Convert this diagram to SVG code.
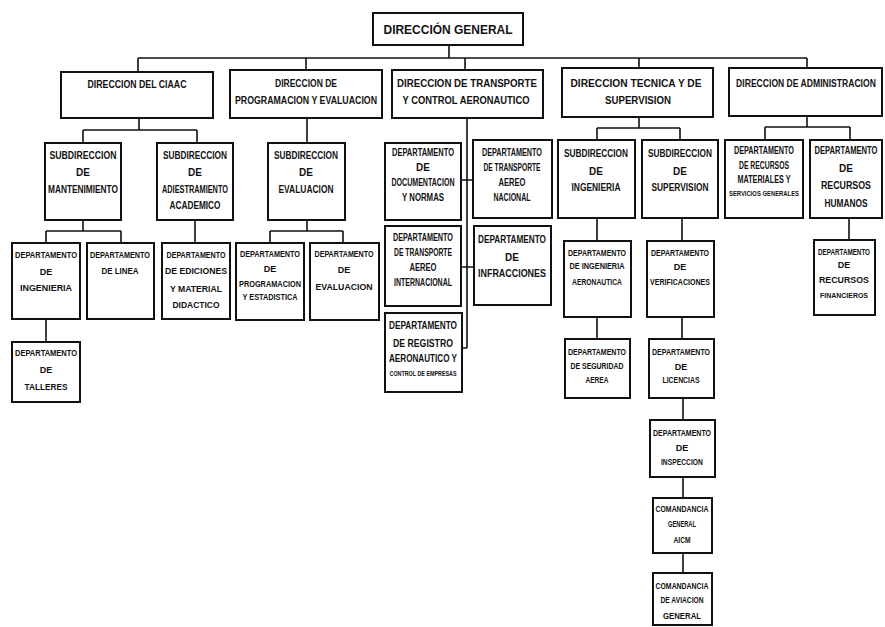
<svg xmlns="http://www.w3.org/2000/svg" width="885" height="627" viewBox="0 0 885 627">
<style>
.b{fill:#fff;stroke:#111;stroke-width:2}
.c{fill:none;stroke:#111;stroke-width:1.6}
text{font-family:"Liberation Sans",Arial,sans-serif;font-weight:bold;fill:#111;text-anchor:middle}
.l1{font-size:11px}
.l2{font-size:10px}
.l3{font-size:9px}
.s{font-size:6.5px}
</style>
<rect width="885" height="627" fill="#fff"/>
<g id="connectors" class="c">
<path d="M449,45V58M138,58H807M138,58V72M306,58V70M465,58V70M639,58V68M807,58V68"/>
<path d="M139,118V130M83,130H197M83,130V143M197,130V143"/>
<path d="M307,118V143"/>
<path d="M467,118V348M461,180H473M461,267H474M462,348H467"/>
<path d="M639,117V128M597,128H680M597,128V140M680,128V140"/>
<path d="M807,116V127M765,127H850M765,127V140M850,127V140"/>
<path d="M83,220V231M46,231H121M46,231V243M121,231V243"/>
<path d="M195,220V243"/>
<path d="M307,220V231M270,231H343M270,231V243M343,231V243"/>
<path d="M46,319V342"/>
<path d="M597,218V241M597,317V339"/>
<path d="M682,218V241M682,317V339M683,398V420M683,477V498M683,553V573"/>
<path d="M849,218V240"/>
</g>
<g id="dg"><rect class="b" x="373" y="13" width="150" height="32"/><text x="448" y="34" font-size="13" textLength="129" lengthAdjust="spacingAndGlyphs">DIRECCIÓN GENERAL</text></g>
<g id="ciaac"><rect class="b" x="61" y="72" width="152" height="46"/><text class="l1" x="137" y="88" textLength="99" lengthAdjust="spacingAndGlyphs">DIRECCION DEL CIAAC</text></g>
<g id="prog"><rect class="b" x="230" y="70" width="152" height="48"/><text class="l1" x="306" y="87" textLength="62" lengthAdjust="spacingAndGlyphs">DIRECCION DE</text><text class="l1" x="306" y="104" textLength="142" lengthAdjust="spacingAndGlyphs">PROGRAMACION Y EVALUACION</text></g>
<g id="transp"><rect class="b" x="392" y="70" width="151" height="48"/><text class="l1" x="467" y="87" textLength="140" lengthAdjust="spacingAndGlyphs">DIRECCION DE TRANSPORTE</text><text class="l1" x="466" y="104" textLength="127" lengthAdjust="spacingAndGlyphs">Y CONTROL AERONAUTICO</text></g>
<g id="tecnica"><rect class="b" x="562" y="68" width="151" height="49"/><text class="l1" x="636" y="87" textLength="131" lengthAdjust="spacingAndGlyphs">DIRECCION TECNICA Y DE</text><text class="l1" x="638" y="104" textLength="66" lengthAdjust="spacingAndGlyphs">SUPERVISION</text></g>
<g id="admin"><rect class="b" x="729" y="68" width="153" height="48"/><text class="l1" transform="translate(806,87) scale(0.78,1)">DIRECCION DE ADMINISTRACION</text></g>

<g id="sub-mant"><rect class="b" x="45" y="143" width="76" height="77"/><text class="l2" x="83" y="159" textLength="67" lengthAdjust="spacingAndGlyphs">SUBDIRECCION</text><text class="l2" x="83" y="176">DE</text><text class="l2" x="83" y="193" textLength="70" lengthAdjust="spacingAndGlyphs">MANTENIMIENTO</text></g>
<g id="sub-adiestr"><rect class="b" x="157" y="143" width="76" height="77"/><text class="l2" x="195" y="159" textLength="64" lengthAdjust="spacingAndGlyphs">SUBDIRECCION</text><text class="l2" x="195" y="176">DE</text><text class="l2" x="195" y="193" textLength="66" lengthAdjust="spacingAndGlyphs">ADIESTRAMIENTO</text><text class="l2" x="195" y="209" textLength="51" lengthAdjust="spacingAndGlyphs">ACADEMICO</text></g>
<g id="sub-eval"><rect class="b" x="268" y="143" width="77" height="77"/><text class="l2" x="306" y="159" textLength="64" lengthAdjust="spacingAndGlyphs">SUBDIRECCION</text><text class="l2" x="306" y="176">DE</text><text class="l2" x="306" y="193" textLength="55" lengthAdjust="spacingAndGlyphs">EVALUACION</text></g>

<g id="dep-doc"><rect class="b" x="385" y="143" width="76" height="77"/><text class="l2" x="423" y="156" textLength="62" lengthAdjust="spacingAndGlyphs">DEPARTAMENTO</text><text class="l2" x="423" y="171">DE</text><text class="l2" x="423" y="186" textLength="63" lengthAdjust="spacingAndGlyphs">DOCUMENTACION</text><text class="l2" x="423" y="201" textLength="42" lengthAdjust="spacingAndGlyphs">Y NORMAS</text></g>
<g id="dep-tnac"><rect class="b" x="473" y="140" width="79" height="78"/><text class="l2" x="512" y="156" textLength="60" lengthAdjust="spacingAndGlyphs">DEPARTAMENTO</text><text class="l2" x="512" y="171" textLength="57" lengthAdjust="spacingAndGlyphs">DE TRANSPORTE</text><text class="l2" x="512" y="186" textLength="27" lengthAdjust="spacingAndGlyphs">AEREO</text><text class="l2" x="512" y="201" textLength="37" lengthAdjust="spacingAndGlyphs">NACIONAL</text></g>
<g id="dep-tint"><rect class="b" x="385" y="226" width="76" height="80"/><text class="l2" x="423" y="241" textLength="60" lengthAdjust="spacingAndGlyphs">DEPARTAMENTO</text><text class="l2" x="423" y="256" textLength="58" lengthAdjust="spacingAndGlyphs">DE TRANSPORTE</text><text class="l2" x="423" y="271" textLength="27" lengthAdjust="spacingAndGlyphs">AEREO</text><text class="l2" x="423" y="286" textLength="58" lengthAdjust="spacingAndGlyphs">INTERNACIONAL</text></g>
<g id="dep-infr"><rect class="b" x="474" y="226" width="77" height="79"/><text class="l2" x="512" y="243" textLength="68" lengthAdjust="spacingAndGlyphs">DEPARTAMENTO</text><text class="l2" x="512" y="261">DE</text><text class="l2" x="512" y="277" textLength="68" lengthAdjust="spacingAndGlyphs">INFRACCIONES</text></g>
<g id="dep-reg"><rect class="b" x="385" y="313" width="77" height="79"/><text class="l2" x="423" y="329" textLength="68" lengthAdjust="spacingAndGlyphs">DEPARTAMENTO</text><text class="l2" x="423" y="347" textLength="60" lengthAdjust="spacingAndGlyphs">DE REGISTRO</text><text class="l2" x="423" y="362" textLength="68" lengthAdjust="spacingAndGlyphs">AERONAUTICO Y</text><text class="s" x="423" y="376" textLength="67" lengthAdjust="spacingAndGlyphs">CONTROL DE EMPRESAS</text></g>

<g id="sub-ing"><rect class="b" x="558" y="140" width="77" height="78"/><text class="l2" x="596" y="157" textLength="64" lengthAdjust="spacingAndGlyphs">SUBDIRECCION</text><text class="l2" x="596" y="175">DE</text><text class="l2" x="596" y="191" textLength="49" lengthAdjust="spacingAndGlyphs">INGENIERIA</text></g>
<g id="sub-sup"><rect class="b" x="642" y="140" width="76" height="78"/><text class="l2" x="680" y="157" textLength="64" lengthAdjust="spacingAndGlyphs">SUBDIRECCION</text><text class="l2" x="680" y="175">DE</text><text class="l2" x="680" y="191" textLength="57" lengthAdjust="spacingAndGlyphs">SUPERVISION</text></g>
<g id="dep-recmat"><rect class="b" x="725" y="140" width="78" height="78"/><text class="l2" x="764" y="154" textLength="60" lengthAdjust="spacingAndGlyphs">DEPARTAMENTO</text><text class="l2" x="764" y="169" textLength="50" lengthAdjust="spacingAndGlyphs">DE RECURSOS</text><text class="l2" x="764" y="183" textLength="53" lengthAdjust="spacingAndGlyphs">MATERIALES Y</text><text class="s" x="764" y="196" textLength="70" lengthAdjust="spacingAndGlyphs">SERVICIOS GENERALES</text></g>
<g id="dep-rechum"><rect class="b" x="810" y="140" width="72" height="78"/><text class="l2" transform="translate(846,154) scale(0.76,1)">DEPARTAMENTO</text><text class="l2" x="846" y="172">DE</text><text class="l2" x="846" y="189" textLength="50" lengthAdjust="spacingAndGlyphs">RECURSOS</text><text class="l2" x="846" y="207" textLength="43" lengthAdjust="spacingAndGlyphs">HUMANOS</text></g>

<g id="dep-ing"><rect class="b" x="12" y="243" width="68" height="76"/><text class="l3" x="46" y="258" textLength="62" lengthAdjust="spacingAndGlyphs">DEPARTAMENTO</text><text class="l3" x="46" y="275">DE</text><text class="l3" x="46" y="291" textLength="52" lengthAdjust="spacingAndGlyphs">INGENIERIA</text></g>
<g id="dep-linea"><rect class="b" x="87" y="243" width="67" height="76"/><text class="l3" x="120" y="258" textLength="60" lengthAdjust="spacingAndGlyphs">DEPARTAMENTO</text><text class="l3" x="120" y="274" textLength="37" lengthAdjust="spacingAndGlyphs">DE LINEA</text></g>
<g id="dep-edic"><rect class="b" x="162" y="243" width="68" height="76"/><text class="l3" x="196" y="258" textLength="59" lengthAdjust="spacingAndGlyphs">DEPARTAMENTO</text><text class="l3" x="196" y="274" textLength="62" lengthAdjust="spacingAndGlyphs">DE EDICIONES</text><text class="l3" x="196" y="292" textLength="52" lengthAdjust="spacingAndGlyphs">Y MATERIAL</text><text class="l3" x="196" y="308" textLength="47" lengthAdjust="spacingAndGlyphs">DIDACTICO</text></g>
<g id="dep-progest"><rect class="b" x="236" y="243" width="68" height="77"/><text class="l3" x="270" y="257" textLength="60" lengthAdjust="spacingAndGlyphs">DEPARTAMENTO</text><text class="l3" x="270" y="272">DE</text><text class="l3" x="270" y="287" textLength="62" lengthAdjust="spacingAndGlyphs">PROGRAMACION</text><text class="l3" x="270" y="300" textLength="55" lengthAdjust="spacingAndGlyphs">Y ESTADISTICA</text></g>
<g id="dep-eval"><rect class="b" x="310" y="243" width="69" height="77"/><text class="l3" x="344" y="257" textLength="59" lengthAdjust="spacingAndGlyphs">DEPARTAMENTO</text><text class="l3" x="344" y="273">DE</text><text class="l3" x="344" y="290" textLength="57" lengthAdjust="spacingAndGlyphs">EVALUACION</text></g>
<g id="dep-talleres"><rect class="b" x="12" y="342" width="68" height="60"/><text class="l3" x="46" y="356" textLength="62" lengthAdjust="spacingAndGlyphs">DEPARTAMENTO</text><text class="l3" x="46" y="373">DE</text><text class="l3" x="46" y="390" textLength="43" lengthAdjust="spacingAndGlyphs">TALLERES</text></g>

<g id="dep-ingaero"><rect class="b" x="564" y="241" width="67" height="76"/><text class="l3" x="597" y="256" textLength="58" lengthAdjust="spacingAndGlyphs">DEPARTAMENTO</text><text class="l3" x="597" y="269" textLength="55" lengthAdjust="spacingAndGlyphs">DE INGENIERIA</text><text class="l3" x="597" y="285" textLength="50" lengthAdjust="spacingAndGlyphs">AERONAUTICA</text></g>
<g id="dep-seg"><rect class="b" x="565" y="339" width="65" height="59"/><text class="l3" x="597" y="355" textLength="58" lengthAdjust="spacingAndGlyphs">DEPARTAMENTO</text><text class="l3" x="597" y="369" textLength="53" lengthAdjust="spacingAndGlyphs">DE SEGURIDAD</text><text class="l3" x="597" y="383" textLength="23" lengthAdjust="spacingAndGlyphs">AEREA</text></g>
<g id="dep-verif"><rect class="b" x="647" y="241" width="67" height="76"/><text class="l3" x="680" y="256" textLength="58" lengthAdjust="spacingAndGlyphs">DEPARTAMENTO</text><text class="l3" x="680" y="270">DE</text><text class="l3" x="680" y="285" textLength="60" lengthAdjust="spacingAndGlyphs">VERIFICACIONES</text></g>
<g id="dep-lic"><rect class="b" x="649" y="339" width="65" height="59"/><text class="l3" x="681" y="355" textLength="58" lengthAdjust="spacingAndGlyphs">DEPARTAMENTO</text><text class="l3" x="681" y="370">DE</text><text class="l3" x="681" y="383" textLength="37" lengthAdjust="spacingAndGlyphs">LICENCIAS</text></g>
<g id="dep-insp"><rect class="b" x="650" y="420" width="65" height="57"/><text class="l3" x="682" y="436" textLength="58" lengthAdjust="spacingAndGlyphs">DEPARTAMENTO</text><text class="l3" x="682" y="451">DE</text><text class="l3" x="682" y="465" textLength="42" lengthAdjust="spacingAndGlyphs">INSPECCION</text></g>
<g id="com-aicm"><rect class="b" x="653" y="498" width="59" height="55"/><text class="l3" x="682" y="512" textLength="53" lengthAdjust="spacingAndGlyphs">COMANDANCIA</text><text class="l3" x="682" y="527" textLength="28" lengthAdjust="spacingAndGlyphs">GENERAL</text><text class="l3" x="682" y="543" textLength="17" lengthAdjust="spacingAndGlyphs">AICM</text></g>
<g id="com-avgen"><rect class="b" x="653" y="573" width="59" height="52"/><text class="l3" x="682" y="589" textLength="53" lengthAdjust="spacingAndGlyphs">COMANDANCIA</text><text class="l3" x="682" y="603" textLength="43" lengthAdjust="spacingAndGlyphs">DE AVIACION</text><text class="l3" x="682" y="619" textLength="38" lengthAdjust="spacingAndGlyphs">GENERAL</text></g>
<g id="dep-recfin"><rect class="b" x="814" y="240" width="61" height="75"/><text class="l3" transform="translate(844,255) scale(0.7,1)">DEPARTAMENTO</text><text class="l3" x="844" y="268">DE</text><text class="l3" x="844" y="283" textLength="50" lengthAdjust="spacingAndGlyphs">RECURSOS</text><text class="s" x="844" y="298" textLength="48" lengthAdjust="spacingAndGlyphs">FINANCIEROS</text></g>
</svg>
